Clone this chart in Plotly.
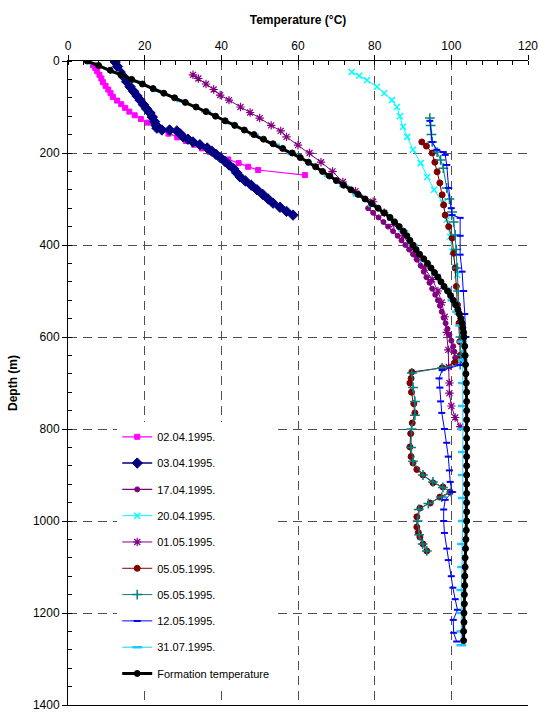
import plotly.graph_objects as go

# ---------------- data ----------------
d_0204 = [9, 15, 22, 30, 38, 46, 54, 62, 70, 78, 86, 94, 102, 110, 118, 126, 134, 142, 150,
          158, 166, 174, 182, 190, 198, 206, 214, 222, 230, 237, 248]
t_0204 = [6.5, 7.1, 7.6, 8.2, 8.7, 9.1, 9.8, 10.5, 11.1, 11.7, 12.8, 13.9, 14.9, 16.0, 17.4,
          19.0, 20.8, 22.8, 24.7, 26.2, 28.5, 30.8, 32.9, 35.0, 37.0, 39.0, 41.8, 44.5, 47.0,
          49.6, 61.8]

d_0304 = [2, 12, 24, 34, 45, 56, 66, 76, 85, 95, 104, 113, 122, 132, 140, 146, 150, 150, 152,
          158, 165, 170, 176, 182, 189, 196, 203, 210, 218, 226, 234, 243, 252, 261, 270, 280,
          290, 300, 309, 318, 327, 335]
t_0304 = [12.3, 12.9, 13.6, 14.5, 15.3, 16.2, 17.1, 18.0, 18.8, 19.7, 20.5, 21.4, 22.0, 22.6,
          23.0, 23.2, 24.5, 26.5, 28.4, 29.2, 30.0, 31.3, 32.6, 34.4, 36.3, 37.5, 38.6, 39.7,
          40.9, 42.0, 43.2, 44.0, 44.9, 46.3, 47.8, 49.3, 50.8, 52.2, 53.5, 55.3, 57.0, 58.7]

d_1704 = [320, 330, 340, 350, 360, 370, 380, 390, 400, 410, 420, 432, 445, 458, 470, 482, 495,
          508, 520, 532, 545, 558, 570, 582, 595, 608, 620, 632, 645]
t_1704 = [78.3, 79.6, 81.0, 82.3, 83.5, 84.8, 86.0, 87.0, 88.0, 89.0, 90.0, 91.0, 92.0, 92.8,
          93.5, 94.3, 95.0, 95.8, 96.5, 97.0, 97.5, 98.0, 98.5, 99.0, 99.5, 100.0, 100.5,
          100.8, 101.0]

d_2004 = [24, 32, 42, 56, 70, 85, 100, 120, 143, 165, 193, 222, 252, 280, 309, 345, 382, 415,
          448, 465]
t_2004 = [74.0, 76.0, 78.0, 80.6, 82.5, 84.5, 85.8, 86.6, 87.4, 88.5, 90.0, 92.0, 93.7, 95.5,
          97.8, 98.8, 99.7, 100.3, 101.0, 101.5]

d_0105 = [30, 38, 50, 62, 74, 85, 100, 112, 124, 140, 152, 165, 183, 200, 220, 240, 263, 283,
          306, 330, 355, 380, 405, 426, 450, 475, 500, 525, 556, 590, 628, 665, 700, 722, 750,
          775, 795]
t_0105 = [32.6, 34.0, 36.0, 38.0, 39.7, 42.0, 45.0, 47.5, 50.0, 53.0, 55.5, 57.0, 60.0, 63.0,
          66.0, 69.0, 71.7, 75.0, 79.6, 82.5, 85.0, 87.5, 89.5, 91.0, 93.0, 95.0, 96.5, 97.5,
          98.3, 98.8, 99.2, 99.3, 99.5, 99.5, 100.0, 101.0, 102.3]

d_0505a = [176, 185, 200, 220, 241, 265, 291, 313, 335, 360, 385, 418, 450, 490, 530, 570, 610,
           640, 655, 667, 676, 690, 700, 720, 745, 765, 787, 810, 839, 860, 874, 888, 900, 917,
           926, 937, 948, 961, 972, 991, 1013, 1025, 1035, 1050, 1065]
t_0505a = [92.3, 93.5, 95.0, 95.7, 96.3, 97.0, 97.6, 98.0, 98.4, 99.3, 100.2, 100.6, 101.0,
           101.3, 101.6, 102.0, 102.2, 102.3, 101.0, 97.6, 89.7, 89.5, 89.2, 89.6, 90.2, 90.5,
           89.8, 89.4, 89.2, 89.5, 90.0, 91.0, 92.6, 95.2, 97.8, 99.7, 97.0, 94.5, 91.8, 91.0,
           91.0, 91.4, 91.8, 92.6, 93.6]

d_0505b = [124, 140, 160, 176, 198, 215, 233, 276, 300, 328, 350, 378, 410, 450, 500, 550, 600,
           640, 660, 667, 678, 710, 740, 770, 800, 840, 870, 900, 915, 927, 937, 948, 962, 975,
           1000, 1030, 1050, 1065]
t_0505b = [94.4, 94.6, 94.8, 95.0, 96.3, 97.2, 97.9, 98.8, 99.5, 100.2, 100.6, 101.0, 101.3,
           101.5, 101.8, 102.1, 102.4, 102.5, 102.3, 97.6, 89.7, 90.0, 90.5, 90.5, 89.6, 89.5,
           90.0, 92.6, 95.2, 97.8, 100.0, 97.5, 94.0, 91.5, 91.2, 91.6, 92.5, 93.6]

d_1205 = [130, 176, 193, 198, 204, 226, 276, 320, 335, 341, 380, 421, 458, 500, 550, 600, 640,
          661, 672, 690, 710, 740, 765, 800, 830, 860, 890, 915, 937, 954, 975, 1000, 1026, 1060,
          1085, 1120, 1145, 1170, 1193, 1215, 1243, 1262]
t_1205 = [94.4, 95.0, 96.2, 97.9, 98.4, 98.8, 99.3, 100.0, 100.2, 102.3, 102.3, 102.3, 102.8,
          103.2, 103.5, 103.8, 103.5, 102.3, 97.6, 96.8, 97.0, 97.2, 97.5, 98.2, 98.8, 99.2,
          99.5, 99.7, 100.2, 98.4, 98.0, 98.0, 98.2, 98.8, 99.2, 100.0, 100.4, 101.0, 101.6,
          100.5, 100.6, 101.4]

d_3107 = [5, 25, 45, 65, 87, 110, 135, 160, 182, 202, 225, 250, 272, 292, 315, 345, 370, 400,
          435, 465, 495, 520, 545, 575, 610, 650, 700, 750, 800, 850, 900, 950, 1000, 1050, 1100,
          1150, 1200, 1240, 1270]
t_3107 = [6.5, 12.0, 17.5, 23.0, 29.5, 36.0, 42.5, 48.5, 54.0, 58.5, 63.5, 68.0, 72.0, 75.5,
          79.5, 84.5, 87.5, 90.0, 93.0, 96.0, 98.8, 100.3, 101.5, 102.3, 102.8, 103.0, 103.0,
          103.0, 103.0, 103.0, 103.0, 103.0, 103.0, 102.8, 102.8, 102.6, 102.6, 102.6, 102.6]

d_form = [0, 10, 20, 30, 40, 50, 60, 70, 80, 90, 100, 110, 120, 130, 140, 150, 160, 170, 180,
          190, 200, 210, 220, 230, 240, 250, 260, 270, 280, 290, 300, 310, 320, 330, 340, 350,
          360, 370, 380, 390, 400, 410, 420, 430, 440, 450, 460, 470, 480, 490, 500, 510, 520,
          530, 540, 550, 560, 570, 580, 590, 600, 620, 640, 660, 680, 700, 720, 740, 760, 780,
          800, 820, 840, 860, 880, 900, 920, 940, 960, 980, 1000, 1020, 1040, 1060, 1080, 1100,
          1120, 1140, 1160, 1180, 1200, 1220, 1240, 1260]
t_form = [5.0, 8.0, 11.0, 13.8, 16.6, 19.4, 22.2, 25.0, 27.8, 30.6, 33.4, 36.0, 38.5, 41.0,
          43.5, 46.0, 48.5, 51.0, 53.5, 56.0, 58.5, 60.6, 62.7, 64.6, 66.4, 68.2, 70.0, 71.9,
          73.8, 75.7, 77.5, 79.2, 80.9, 82.5, 84.0, 85.2, 86.4, 87.5, 88.4, 89.2, 90.0, 90.8,
          91.7, 92.8, 93.8, 94.7, 95.6, 96.5, 97.3, 98.1, 99.0, 99.8, 100.5, 101.1, 101.7,
          102.1, 102.5, 102.8, 103.0, 103.2, 103.3, 103.5, 103.6, 103.7, 103.8, 103.9, 104.0,
          104.0, 104.0, 104.0, 104.0, 104.0, 104.0, 104.0, 104.0, 104.0, 104.0, 104.0, 104.0,
          104.0, 104.0, 103.9, 103.8, 103.7, 103.6, 103.6, 103.5, 103.5, 103.4, 103.4, 103.3,
          103.3, 103.2, 103.2]

x_ticks = [0, 20, 40, 60, 80, 100, 120]
y_ticks = [0, 200, 400, 600, 800, 1000, 1200, 1400]

series = [
    ("02.04.1995.", t_0204, d_0204, "#FF00FF", "square", 5, 1.2, 1),
    ("03.04.1995.", t_0304, d_0304, "#000080", "diamond", 8, 1.5, 1),
    ("17.04.1995.", t_1704, d_1704, "#800080", "circle", 5, 1.2, 1),
    ("20.04.1995.", t_2004, d_2004, "#00FFFF", "x-thin-open", 6, 1.0, 1.5),
    ("01.05.1995.", t_0105, d_0105, "#800080", "asterisk-open", 7, 1.0, 1.2),
    ("05.05.1995.", t_0505a, d_0505a, "#800000", "circle", 6, 1.0, 1),
    ("05.05.1995.", t_0505b, d_0505b, "#008080", "cross-thin-open", 7, 1.0, 1.5),
    ("12.05.1995.", t_1205, d_1205, "#0000FF", "line-ew-open", 5, 1.0, 2),
    ("31.07.1995.", t_3107, d_3107, "#1EC8FF", "line-ew-open", 7, 1.0, 2.5),
    ("Formation temperature", t_form, d_form, "#000000", "circle", 6, 3.0, 1),
]

fig = go.Figure()
for i, (name, t, d, col, sym, sz, lw, mlw) in enumerate(series):
    fig.add_trace(go.Scatter(
        x=t, y=d, name=name, mode="lines+markers", legendgroup=str(i),
        line=dict(color=col, width=lw),
        marker=dict(symbol=sym, size=sz, color=col, line=dict(color=col, width=mlw)),
    ))

grid = dict(showgrid=True, gridcolor="#505050", gridwidth=1, griddash="9px,6px")
fig.update_layout(
    width=539, height=713,
    margin=dict(l=68, r=11, t=61, b=8, autoexpand=False),
    paper_bgcolor="white", plot_bgcolor="white",
    font=dict(family="Liberation Sans, Arial, sans-serif", size=12, color="black"),
    showlegend=True,
    legend=dict(x=0.107, y=0.439, xanchor="left", yanchor="top",
                bgcolor="white", borderwidth=0, tracegroupgap=7.3,
                font=dict(size=11, color="black"), traceorder="grouped"),
    xaxis=dict(range=[0, 120], side="top", tickvals=x_ticks, ticks="outside", ticklen=5,
               tickcolor="black", showline=True, linecolor="black", linewidth=1,
               mirror=True, zeroline=False, automargin=False,
               minor=dict(dtick=4, ticks="inside", ticklen=4, tickcolor="black", showgrid=False),
               title=dict(text="Temperature (°C)", standoff=12,
                          font=dict(size=12, weight="bold")),
               **grid),
    yaxis=dict(range=[1400, 0], tickvals=y_ticks, ticks="outside", ticklen=5,
               tickcolor="black", showline=True, linecolor="black", linewidth=1,
               zeroline=False, automargin=False,
               minor=dict(dtick=40, ticks="inside", ticklen=4, tickcolor="black", showgrid=False),
               title=dict(text="Depth (m)", standoff=12,
                          font=dict(size=12, weight="bold")),
               **grid),
    shapes=[dict(type="rect", xref="paper", yref="paper", x0=0.003, x1=0.504,
                 y0=0.024, y1=0.478, fillcolor="white", line=dict(width=0), layer="between")],
)

fig.write_html("out.html")
